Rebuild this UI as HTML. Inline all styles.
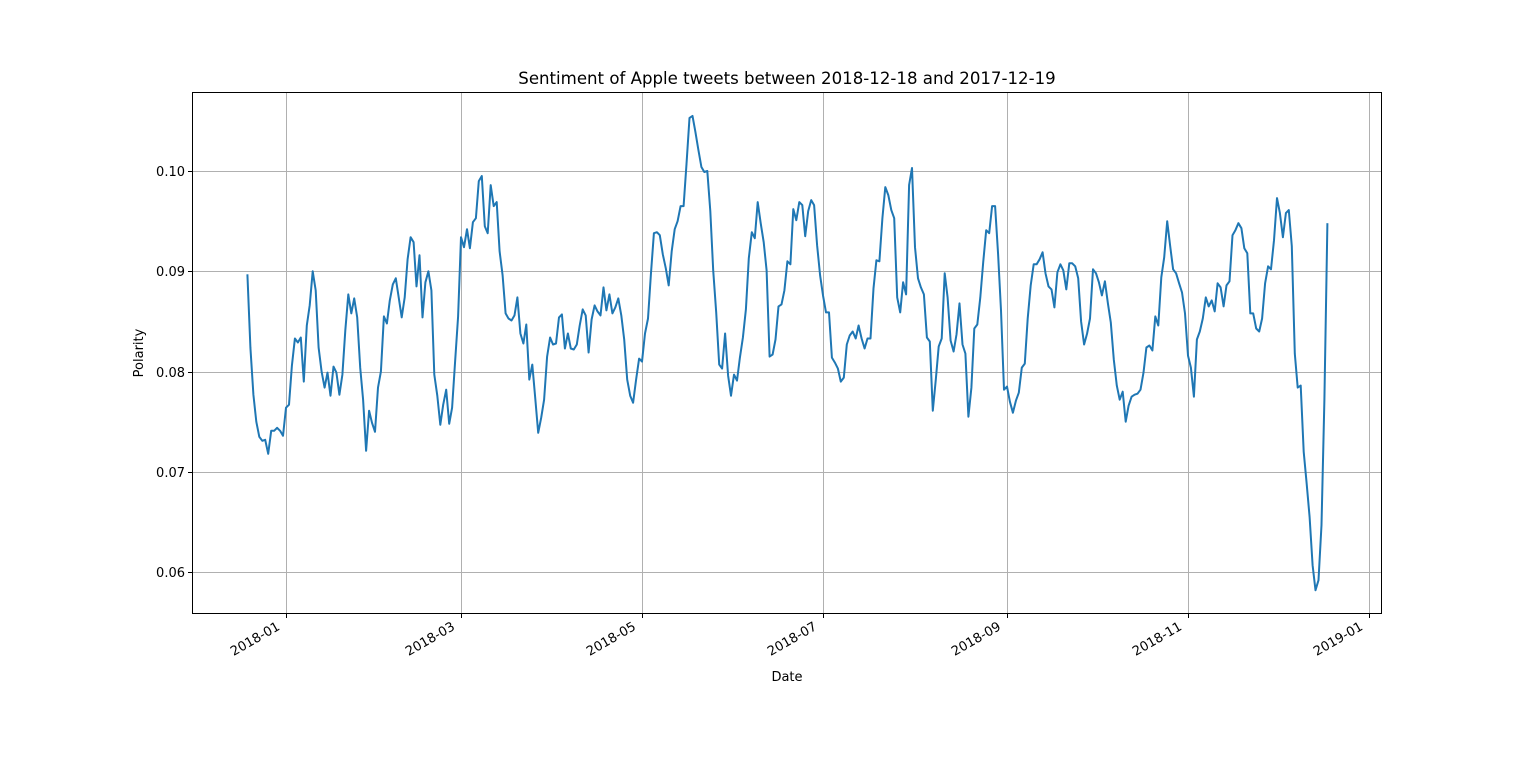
<!DOCTYPE html>
<html><head><meta charset="utf-8"><style>
body{margin:0;background:#fff;font-family:"Liberation Sans","DejaVu Sans",sans-serif}
svg text{font-family:"DejaVu Sans","Liberation Sans",sans-serif}
</style></head><body>
<svg id="chart" width="1536" height="767" xmlns="http://www.w3.org/2000/svg">
<rect width="1536" height="767" fill="#fff"/>
<g id="grid"></g>
<g id="plot"></g>
<rect x="192.5" y="92.5" width="1189" height="521" fill="none" stroke="#000" stroke-width="1"/>
<g id="ticks"></g>
<text x="787" y="84" text-anchor="middle" font-size="16.6">Sentiment of Apple tweets between 2018-12-18 and 2017-12-19</text>
<text x="787" y="681" text-anchor="middle" font-size="13">Date</text>
<text transform="translate(143,353) rotate(-90)" text-anchor="middle" font-size="13">Polarity</text>
</svg>
<script>
const startDate = "2017-12-19";
const endDate = "2018-12-18";
const polarity = [.0897,.0824,.0777,.0750,.0735,.0731,.0732,.0718,.0741,.0741,.0744,.0741,.0736,.0764,.0767,.0806,.0833,.0829,.0834,.0790,.0846,.0866,.0900,.0881,.0824,.0800,.0784,.0799,.0776,.0805,.0799,.0777,.0797,.0841,.0877,.0858,.0873,.0854,.0804,.0772,.0721,.0761,.0749,.0740,.0784,.0800,.0855,.0848,.0871,.0887,.0893,.0874,.0854,.0874,.0912,.0934,.0929,.0885,.0916,.0854,.0889,.0900,.0881,.0797,.0776,.0747,.0767,.0782,.0748,.0764,.0810,.0855,.0934,.0924,.0942,.0923,.0949,.0953,.0990,.0995,.0945,.0938,.0986,.0965,.0969,.0920,.0896,.0858,.0853,.0851,.0856,.0874,.0838,.0828,.0847,.0792,.0807,.0774,.0739,.0754,.0772,.0815,.0834,.0827,.0828,.0854,.0857,.0823,.0838,.0823,.0822,.0827,.0846,.0862,.0856,.0819,.0852,.0866,.0860,.0856,.0884,.0861,.0877,.0858,.0864,.0873,.0856,.0832,.0792,.0776,.0769,.0792,.0813,.0810,.0838,.0853,.0897,.0938,.0939,.0936,.0917,.0903,.0886,.0920,.0942,.0950,.0965,.0965,.1007,.1053,.1055,.1039,.1021,.1004,.0999,.1000,.0960,.0901,.0859,.0807,.0803,.0838,.0796,.0776,.0797,.0791,.0814,.0834,.0862,.0913,.0939,.0933,.0969,.0948,.0929,.0901,.0815,.0817,.0832,.0865,.0867,.0881,.0910,.0907,.0962,.0951,.0969,.0966,.0935,.0960,.0971,.0966,.0926,.0896,.0876,.0859,.0859,.0814,.0809,.0803,.0790,.0794,.0827,.0836,.0840,.0833,.0846,.0833,.0823,.0833,.0833,.0883,.0911,.0910,.0953,.0984,.0976,.0961,.0953,.0874,.0859,.0889,.0877,.0986,.1003,.0924,.0893,.0884,.0877,.0834,.0830,.0761,.0792,.0825,.0833,.0898,.0874,.0831,.0820,.0837,.0868,.0827,.0818,.0755,.0784,.0843,.0847,.0874,.0909,.0941,.0938,.0965,.0965,.0917,.0861,.0782,.0785,.0770,.0759,.0771,.0779,.0804,.0808,.0853,.0886,.0907,.0907,.0912,.0919,.0898,.0885,.0882,.0864,.0899,.0907,.0901,.0882,.0908,.0908,.0905,.0893,.0850,.0827,.0838,.0853,.0902,.0898,.0889,.0876,.0890,.0868,.0849,.0812,.0786,.0772,.0780,.0750,.0766,.0775,.0777,.0778,.0782,.0799,.0824,.0826,.0821,.0855,.0846,.0894,.0914,.0950,.0925,.0902,.0898,.0888,.0879,.0858,.0816,.0804,.0775,.0832,.0840,.0853,.0874,.0865,.0871,.0860,.0888,.0884,.0865,.0886,.0890,.0936,.0941,.0948,.0943,.0923,.0918,.0858,.0858,.0843,.0840,.0853,.0888,.0905,.0902,.0931,.0973,.0958,.0934,.0958,.0961,.0925,.0818,.0784,.0786,.0720,.0689,.0655,.0607,.0582,.0592,.0647,.0772,.0948];
const yTicks = [0.06,0.07,0.08,0.09,0.10];
const yTickLabels = ["0.06","0.07","0.08","0.09","0.10"];
const xTicks = ["2018-01-01","2018-03-01","2018-05-01","2018-07-01","2018-09-01","2018-11-01","2019-01-01"];
const xTickLabels = ["2018-01","2018-03","2018-05","2018-07","2018-09","2018-11","2019-01"];

const NS="http://www.w3.org/2000/svg";
const L=192,R=1382,T=92,B=614;
const base=Date.parse("2018-01-01T00:00:00Z");
const dayOf=s=>(Date.parse(s+"T00:00:00Z")-base)/86400000;
const xMin=-31.68,xMax=369.4,yMin=0.05583,yMax=0.10788;
const xs=d=>L+(d-xMin)/(xMax-xMin)*(R-L);
const ys=v=>B-(v-yMin)/(yMax-yMin)*(B-T);
function mk(tag,attrs,parent){const e=document.createElementNS(NS,tag);for(const k in attrs)e.setAttribute(k,attrs[k]);parent.appendChild(e);return e;}
const grid=document.getElementById('grid'),ticks=document.getElementById('ticks'),plot=document.getElementById('plot');
yTicks.forEach((v,i)=>{
  const y=Math.round(ys(v))+0.5;
  const g=mk('line',{x1:L,x2:R,y1:y,y2:y,stroke:'#b0b0b0','stroke-width':1},grid);
  
  
  const t=mk('line',{x1:L-4,x2:L,y1:y,y2:y,stroke:'#000'},ticks);
  
  
  const tx=mk('text',{x:L-7,y:y+4.5,'text-anchor':'end','font-size':13},ticks);
  tx.textContent=yTickLabels[i];
  
  
});
xTicks.forEach((s,i)=>{
  const x=Math.round(xs(dayOf(s)))+0.5;
  const g=mk('line',{x1:x,x2:x,y1:T,y2:B,stroke:'#b0b0b0','stroke-width':1},grid);
  
  
  const t=mk('line',{x1:x,x2:x,y1:B,y2:B+4,stroke:'#000'},ticks);
  
  
  const tx=mk('text',{'text-anchor':'end','font-size':13,transform:`translate(${x-11},${B+6}) rotate(-30)`,dy:'0.8em'},ticks);
  tx.textContent=xTickLabels[i];
  
  
});
const d0=dayOf(startDate),d1=dayOf(endDate),n=polarity.length;
const pts=polarity.map((v,i)=>xs(d0+i*(d1-d0)/(n-1)).toFixed(1)+','+ys(v).toFixed(1)).join(' ');
const line=mk('polyline',{points:pts,fill:'none',stroke:'#1f77b4','stroke-width':2,'stroke-linejoin':'round'},plot);


</script>
</body></html>
